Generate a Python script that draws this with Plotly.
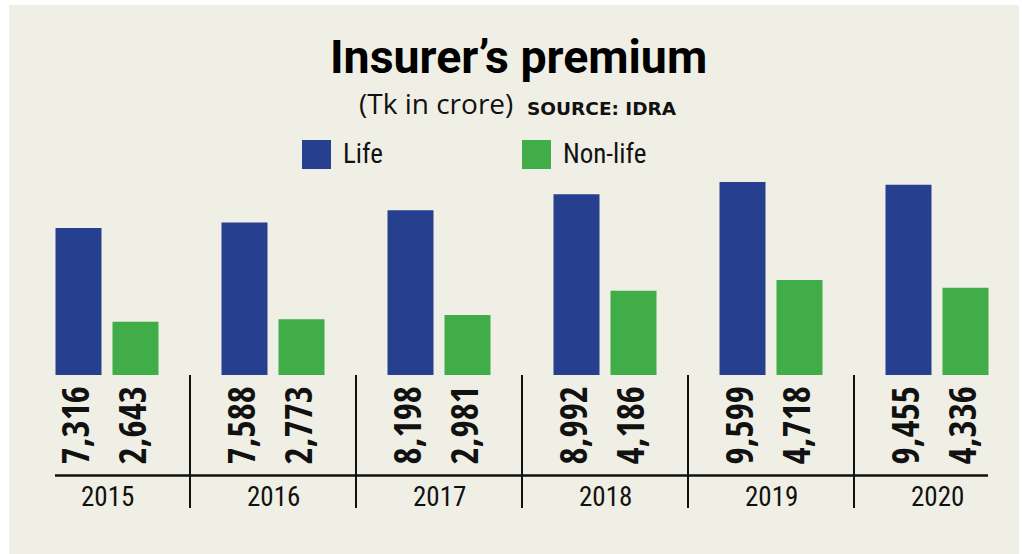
import plotly.graph_objects as go

years = ["2015", "2016", "2017", "2018", "2019", "2020"]
life = [7316, 7588, 8198, 8992, 9599, 9455]
nonlife = [2643, 2773, 2981, 4186, 4718, 4336]
life_labels = ["7,316", "7,588", "8,198", "8,992", "9,599", "9,455"]
nonlife_labels = ["2,643", "2,773", "2,981", "4,186", "4,718", "4,336"]

BLUE = "#263f8e"
GREEN = "#41ad49"
CREAM = "#f0efe5"
BOLDC = "'Open Sans Condensed', 'Roboto Condensed', sans-serif"
REGC = "'Roboto Condensed', 'DejaVu Sans Condensed', sans-serif"

W, H = 1022, 554
L, R, T, B = 24, 2, 135, 179
PW, PH = W - L - R, H - T - B


def px(xp):
    return (xp - L) / PW


def py(yp):
    return (H - B - yp) / PH


fig = go.Figure()
fig.add_trace(go.Bar(x=years, y=life, name="Life", marker=dict(color=BLUE, line=dict(width=0))))
fig.add_trace(go.Bar(x=years, y=nonlife, name="Non-life", marker=dict(color=GREEN, line=dict(width=0))))

shapes = []
annotations = []

# cream background panel
shapes.append(dict(type="rect", xref="paper", yref="paper", x0=px(9), x1=px(1019), y0=py(560), y1=py(5),
                   fillcolor=CREAM, line=dict(width=0), layer="below"))

# horizontal rule
shapes.append(dict(type="line", xref="paper", yref="paper", x0=px(55), x1=px(988), y0=py(475.5), y1=py(475.5),
                   line=dict(color="#111111", width=2.5)))
# vertical separators between years
for i in range(len(years) - 1):
    shapes.append(dict(type="line", xref="x", yref="paper", x0=i + 0.5, x1=i + 0.5, y0=py(375), y1=py(508),
                       line=dict(color="#111111", width=2)))

# value labels and year labels (category index positions)
for i, yr in enumerate(years):
    annotations.append(dict(x=i, y=py(384), xref="x", yref="paper", text=f"<b>{life_labels[i]}</b>",
                            textangle=-90, showarrow=False, xanchor="center", yanchor="top", xshift=-33,
                            font=dict(family=BOLDC, size=37, color="#111111")))
    annotations.append(dict(x=i, y=py(384), xref="x", yref="paper", text=f"<b>{nonlife_labels[i]}</b>",
                            textangle=-90, showarrow=False, xanchor="center", yanchor="top", xshift=24,
                            font=dict(family=BOLDC, size=37, color="#111111")))
    annotations.append(dict(x=i, y=py(497), xref="x", yref="paper", text=yr, showarrow=False,
                            xanchor="center", yanchor="middle",
                            font=dict(family=REGC, size=27, color="#111111")))

# title & subtitle
annotations.append(dict(x=px(518), y=py(57), xref="paper", yref="paper", text="<b>Insurer’s premium</b>",
                        showarrow=False, xanchor="center", yanchor="middle",
                        font=dict(family="Roboto, sans-serif", size=46.5, color="#000000")))
annotations.append(dict(x=px(515), y=py(103), xref="paper", yref="paper", showarrow=False,
                        xanchor="right", yanchor="middle", text="(Tk in crore)",
                        font=dict(family="'Open Sans', 'Noto Sans', sans-serif", size=28, color="#111111")))
annotations.append(dict(x=px(525), y=py(108.5), xref="paper", yref="paper", showarrow=False,
                        xanchor="left", yanchor="middle", text="<b>SOURCE: IDRA</b>",
                        font=dict(family="'DejaVu Sans', sans-serif", size=18.5, color="#111111")))

# legend
for x0, col, name in [(302, BLUE, "Life"), (522, GREEN, "Non-life")]:
    shapes.append(dict(type="rect", xref="paper", yref="paper", x0=px(x0), x1=px(x0 + 29), y0=py(169), y1=py(140),
                       fillcolor=col, line=dict(width=0)))
    annotations.append(dict(x=px(x0 + 39), y=py(154), xref="paper", yref="paper", text=name, showarrow=False,
                            xanchor="left", yanchor="middle",
                            font=dict(family=REGC, size=27, color="#111111")))

fig.update_layout(
    width=W, height=H,
    margin=dict(l=L, r=R, t=T, b=B, pad=0),
    paper_bgcolor="white", plot_bgcolor="rgba(0,0,0,0)",
    barmode="group", bargap=0.3133, bargroupgap=0.193,
    showlegend=False,
    xaxis=dict(type="category", showticklabels=False, showgrid=False, zeroline=False, showline=False,
               ticks="", range=[-0.5, 5.5], fixedrange=True),
    yaxis=dict(range=[0, PH / 0.02011], showticklabels=False, showgrid=False, zeroline=False,
               showline=False, ticks="", fixedrange=True),
    shapes=shapes, annotations=annotations,
)

fig.write_html("out.html", config={"displayModeBar": False},
               post_script="document.body.style.margin='0px';document.body.style.overflow='hidden';")
